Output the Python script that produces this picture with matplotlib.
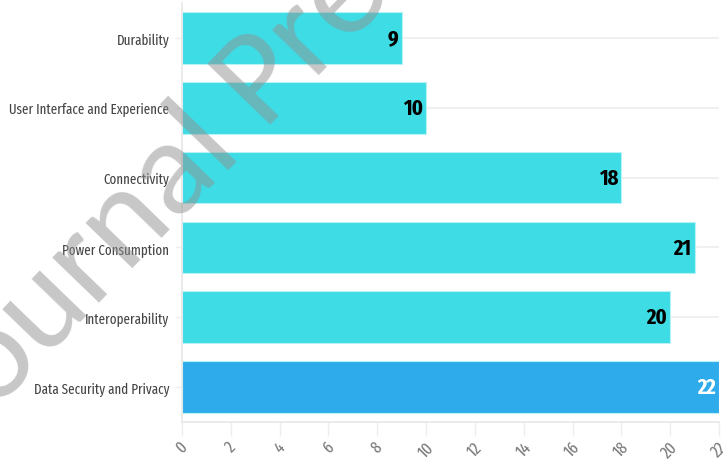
import matplotlib
matplotlib.use("Agg")
import matplotlib.pyplot as plt

categories = ["Durability", "User Interface and Experience", "Connectivity",
              "Power Consumption", "Interoperability", "Data Security and Privacy"]
values = [9, 10, 18, 21, 20, 22]
highlight = "Data Security and Privacy"
x_ticks = list(range(0, 23, 2))

label_fonts = ['Ubuntu Condensed', 'Fira Sans Extra Condensed', 'Roboto Condensed',
               'PT Sans Narrow', 'Archivo Narrow', 'DejaVu Sans']
number_fonts = ['Fira Sans Extra Condensed', 'Roboto Condensed', 'PT Sans Narrow',
                'Archivo Narrow', 'DejaVu Sans']
plt.rcParams['font.family'] = label_fonts

fig = plt.figure(figsize=(7.23, 4.64), dpi=100)
ax = fig.add_axes([0.2517, 0.0884, 0.7428, 0.903])

pos = list(range(len(categories)))
colors = ['#2eabea' if c == highlight else '#3edce5' for c in categories]
ax.barh(pos, values, height=0.74, color=colors, edgecolor='#b8f2f5',
        linewidth=0.8, zorder=2)

for p, v, c in zip(pos, values, categories):
    tc = 'white' if c == highlight else 'black'
    ax.text(v - 0.12, p, str(v), ha='right', va='center', fontsize=16,
            fontweight='bold', color=tc, family=number_fonts, zorder=3)

ax.set_yticks(pos)
ticklabels = ax.set_yticklabels(categories, fontsize=13, color='#444444')
ax.set_ylim(len(categories) - 0.5, -0.5)
ax.set_xlim(0, 22)
ax.set_xticks(x_ticks)
ax.set_xticklabels([str(t) for t in x_ticks], rotation=45, fontsize=12,
                   color='#777777', ha='center')

# shrink the category labels so the longest one fits like in the original (~160 px)
fig.canvas.draw()
r = fig.canvas.get_renderer()
widest = max(t.get_window_extent(r).width for t in ticklabels)
fs = min(13, 13 * 160 / widest)
for t in ticklabels:
    t.set_fontsize(fs)

ax.yaxis.grid(True, color='#eeeeee', linewidth=1.2, zorder=0)
ax.set_axisbelow(True)
ax.tick_params(axis='x', length=10, color='#eeeeee', width=1, pad=2)
ax.tick_params(axis='y', length=5, color='#eeeeee', width=1, pad=4)
for s in ['top', 'right']:
    ax.spines[s].set_visible(False)
for s in ['left', 'bottom']:
    ax.spines[s].set_color('#e8e8e8')
    ax.spines[s].set_linewidth(1.2)

# watermark
fig.text(-0.05, 0.045, "Journal Pre-proof", fontsize=98, rotation=46,
         rotation_mode='anchor', ha='left', va='baseline', color='#909090',
         alpha=0.5, family=['Carlito', 'Open Sans'], zorder=10)

fig.savefig("out.png", dpi=100)
